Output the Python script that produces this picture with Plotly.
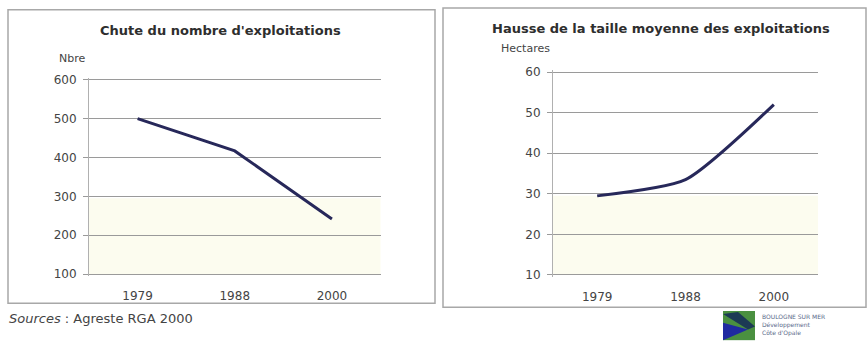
import plotly.graph_objects as go

W, H = 867, 351

years = ["1979", "1988", "2000"]
nb_exploitations = [500, 417, 242]
taille_moyenne = [29.5, 33.5, 52]

left_ticks = [100, 200, 300, 400, 500, 600]
right_ticks = [10, 20, 30, 40, 50, 60]

title_left = "Chute du nombre d'exploitations"
title_right = "Hausse de la taille moyenne des exploitations"
unit_left = "Nbre"
unit_right = "Hectares"
source_text = "<i>Sources</i> : Agreste RGA 2000"

def px(x):
    return x / W

def py(y):
    return 1 - y / H

LINE = "#27285a"
GRID = "#9a9a9a"
TXT = "#444444"
FONT = "DejaVu Sans, Verdana, sans-serif"

fig = go.Figure()
fig.add_trace(go.Scatter(x=years, y=nb_exploitations, mode="lines",
                         line=dict(color=LINE, width=3), xaxis="x", yaxis="y",
                         showlegend=False))
fig.add_trace(go.Scatter(x=years, y=taille_moyenne, mode="lines",
                         line=dict(color=LINE, width=3, shape="spline", smoothing=0.6),
                         xaxis="x2", yaxis="y2", showlegend=False))

tickfont = dict(size=12, color=TXT, family=FONT)
axis_common = dict(showgrid=True, gridcolor=GRID, gridwidth=1, zeroline=False,
                   tickfont=tickfont, fixedrange=True, showline=True,
                   linecolor="#b0b0b0", linewidth=1, ticks="outside",
                   ticklen=5, tickcolor=GRID, ticklabelstandoff=4)
xaxis_common = dict(range=[-0.5, 2.5], type="category", showgrid=False,
                    showline=False, ticks="", tickfont=tickfont,
                    ticklabelstandoff=11, fixedrange=True)

# y ranges padded slightly so that the end gridlines are drawn
fig.update_layout(
    width=W, height=H, margin=dict(l=0, r=0, t=0, b=0),
    paper_bgcolor="white", plot_bgcolor="rgba(0,0,0,0)",
    font=dict(family=FONT, color=TXT),
    xaxis=dict(domain=[px(89), px(380.5)], anchor="y", **xaxis_common),
    yaxis=dict(domain=[py(279), py(75)], range=[95, 605], tickvals=left_ticks,
               anchor="x", **axis_common),
    xaxis2=dict(domain=[px(553), px(818)], anchor="y2", **xaxis_common),
    yaxis2=dict(domain=[py(280), py(67)], range=[9.5, 60.5], tickvals=right_ticks,
                anchor="x2", **axis_common),
)

shapes = [
    # faint yellowish band at the bottom of each plot
    dict(type="rect", xref="x domain", yref="y", x0=0, x1=1, y0=100, y1=295,
         fillcolor="rgba(250,250,225,0.55)", line=dict(width=0), layer="below"),
    dict(type="rect", xref="x2 domain", yref="y2", x0=0, x1=1, y0=10, y1=29.5,
         fillcolor="rgba(250,250,225,0.55)", line=dict(width=0), layer="below"),
    # panel frames
    dict(type="rect", xref="paper", yref="paper", x0=px(8), x1=px(435), y0=py(307), y1=py(5),
         line=dict(color="#a8a8a8", width=1.5), fillcolor="rgba(0,0,0,0)"),
    dict(type="rect", xref="paper", yref="paper", x0=px(443), x1=px(866), y0=py(311), y1=py(3),
         line=dict(color="#a8a8a8", width=1.5), fillcolor="rgba(0,0,0,0)"),
    # logo blocks
    dict(type="rect", xref="paper", yref="paper", x0=px(723), x1=px(755), y0=py(345), y1=py(315),
         fillcolor="#4a9040", line=dict(width=0)),
    dict(type="path", xref="paper", yref="paper",
         path=f"M {px(723)} {py(327)} L {px(748)} {py(334)} L {px(723)} {py(345)} Z",
         fillcolor="#1f2aa0", line=dict(width=0)),
    dict(type="path", xref="paper", yref="paper",
         path=f"M {px(723)} {py(318)} L {px(738)} {py(316)} L {px(755)} {py(331)} L {px(748)} {py(334)} Z",
         fillcolor="#1c3a55", line=dict(width=0)),
]
fig.update_layout(shapes=shapes)

ann = [
    dict(text=f"<b>{title_left}</b>", x=px(221), y=py(26), xref="paper", yref="paper",
         showarrow=False, font=dict(size=13, color="#2e2e2e"), xanchor="center", yanchor="middle"),
    dict(text=f"<b>{title_right}</b>", x=px(661), y=py(24), xref="paper", yref="paper",
         showarrow=False, font=dict(size=13, color="#2e2e2e"), xanchor="center", yanchor="middle"),
    dict(text=unit_left, x=px(72), y=py(55), xref="paper", yref="paper",
         showarrow=False, font=dict(size=11, color=TXT), xanchor="center", yanchor="middle"),
    dict(text=unit_right, x=px(525), y=py(45), xref="paper", yref="paper",
         showarrow=False, font=dict(size=11, color=TXT), xanchor="center", yanchor="middle"),
    dict(text=source_text, x=px(7), y=py(323), xref="paper", yref="paper",
         showarrow=False, font=dict(size=13, color=TXT), xanchor="left", yanchor="middle"),
    dict(text="BOULOGNE SUR MER<br>Développement<br>Côte d'Opale", x=px(760), y=py(329),
         xref="paper", yref="paper", showarrow=False, align="left",
         font=dict(size=6, color="#5a6a8a"), xanchor="left", yanchor="middle"),
]
fig.update_layout(annotations=ann)

fig.write_html("out.html", post_script="document.body.style.margin='0';",
               config={"displayModeBar": False})
